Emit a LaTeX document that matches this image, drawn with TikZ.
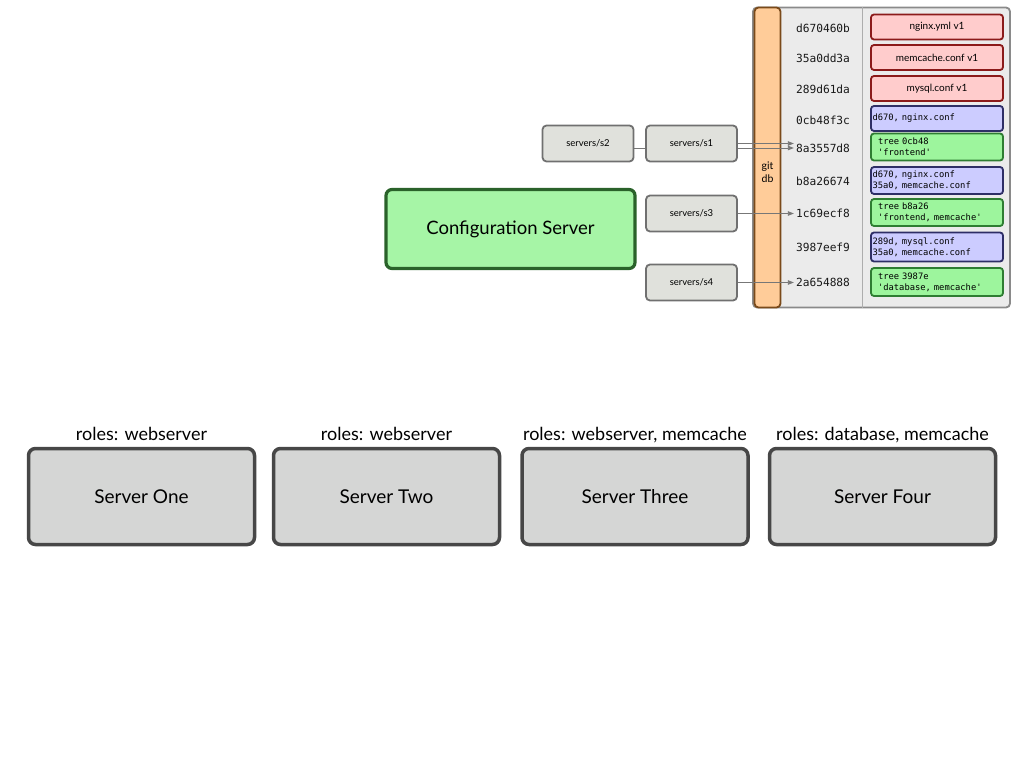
\documentclass[tikz,border=0pt]{standalone}
\usepackage{fontspec}
\setmainfont{Lato}
\newfontfamily\monof{DejaVu Sans Mono}
\usetikzlibrary{arrows.meta}
\definecolor{panelfill}{HTML}{EBEBEB}
\definecolor{panelline}{HTML}{8A8A8A}
\definecolor{barfill}{HTML}{FFCC99}
\definecolor{barline}{HTML}{7A4A1A}
\definecolor{redfill}{HTML}{FFCCCC}
\definecolor{redline}{HTML}{8B1A1A}
\definecolor{bluefill}{HTML}{CCCCFF}
\definecolor{blueline}{HTML}{2E2E66}
\definecolor{greenfill}{HTML}{9DF59D}
\definecolor{greenline}{HTML}{2E7D32}
\definecolor{cfgfill}{HTML}{A6F5A6}
\definecolor{cfgline}{HTML}{2A622A}
\definecolor{sfill}{HTML}{E0E1DC}
\definecolor{sline}{HTML}{707070}
\definecolor{srvfill}{HTML}{D5D6D5}
\definecolor{srvline}{HTML}{474747}
\definecolor{conn}{HTML}{777777}
\pgfdeclarelayer{fg}
\pgfsetlayers{main,fg}
\tikzset{
  hash/.style={font=\monof\fontsize{11.2}{13}\selectfont, inner sep=2pt, text=black!90},
  redbox/.style={draw=redline, fill=redfill, line width=1.8pt, rounded corners=3pt,
    minimum width=132pt, minimum height=25pt, font=\fontsize{10}{12}\selectfont},
  bluebox/.style={draw=blueline, fill=bluefill, line width=1.8pt, rounded corners=3pt,
    minimum width=132pt, minimum height=25pt, inner xsep=1.5pt, text width=129pt, align=left,
    font=\monof\fontsize{8.8}{11}\selectfont},
  greenbox/.style={draw=greenline, fill=greenfill, line width=1.8pt, rounded corners=3pt,
    minimum width=132pt, minimum height=27pt, inner xsep=7pt, text width=118pt, align=left,
    font=\monof\fontsize{8.8}{11}\selectfont},
  sbox/.style={draw=sline, fill=sfill, line width=1.8pt, rounded corners=4pt,
    minimum width=91pt, minimum height=36pt, font=\fontsize{9.5}{11}\selectfont},
  srv/.style={draw=srvline, fill=srvfill, line width=3.5pt, rounded corners=7pt,
    minimum width=226pt, minimum height=96pt, font=\fontsize{19}{22}\selectfont},
  role/.style={font=\fontsize{18}{21}\selectfont, inner sep=0pt},
  link/.style={draw=conn, line width=0.9pt, -{Triangle[length=6pt,width=4.5pt]}},
  plain/.style={draw=conn, line width=0.9pt}
}
\begin{document}
\begin{tikzpicture}[x=1pt,y=-1pt]
\useasboundingbox (0,0) rectangle (1024,768);
% git db panel
\node[draw=panelline, fill=panelfill, line width=1.8pt, rounded corners=4pt,
  minimum width=257pt, minimum height=300pt] (panel) at (881.5,157.5) {};
\draw[panelline!70, line width=0.8pt] (panel.north -| 862,0) -- (panel.south -| 862,0);
\node[draw=barline, fill=barfill, line width=1.8pt, rounded corners=4pt,
  minimum width=26pt, minimum height=300pt] (bar) at (767.5,157.5) {};
\node[font=\fontsize{10.5}{13}\selectfont, align=center] (gitdb) at (767.5,172) {git\\db};
% hashes
\node[hash] (h1) at (823,28) {d670460b};
\node[hash] (h2) at (823,58) {35a0dd3a};
\node[hash] (h3) at (823,89) {289d61da};
\node[hash] (h4) at (823,120) {0cb48f3c};
\node[hash] (h5) at (823,148) {8a3557d8};
\node[hash] (h6) at (823,181) {b8a26674};
\node[hash] (h7) at (823,213) {1c69ecf8};
\node[hash] (h8) at (823,247) {3987eef9};
\node[hash] (h9) at (823,282) {2a654888};
% objects
\node[redbox] (o1) at (937,27) {nginx.yml v1};
\node[redbox] (o2) at (937,57.5) {memcache.conf v1};
\node[redbox] (o3) at (937,88.5) {mysql.conf v1};
\node[bluebox] (o4) at (937,118.5) {d670, nginx.conf};
\node[greenbox] (o5) at (937,147) {tree 0cb48\\'frontend'};
\node[bluebox, minimum height=27pt] (o6) at (937,180.5) {d670, nginx.conf\\35a0, memcache.conf};
\node[greenbox] (o7) at (937,212.5) {tree b8a26\\'frontend, memcache'};
\node[bluebox, minimum height=29pt] (o8) at (937,247) {289d, mysql.conf\\35a0, memcache.conf};
\node[greenbox, minimum height=28pt] (o9) at (937,282) {tree 3987e\\'database, memcache'};
% refs
\begin{pgfonlayer}{fg}
\node[sbox] (s2) at (588,143.5) {servers/s2};
\node[sbox] (s1) at (691.5,143.5) {servers/s1};
\node[sbox] (s3) at (691.5,213.5) {servers/s3};
\node[sbox] (s4) at (691.5,282.5) {servers/s4};
\end{pgfonlayer}
\draw[link] ([yshift=-4.5pt]s2.east) -- ([yshift=-4.5pt]s2.east -| h5.west);
\draw[link] (s1.east) -- (s1.east -| h5.west);
\draw[link] (s3.east) -- (s3.east -| h7.west);
\draw[link] (s4.east) -- (s4.east -| h9.west);
% configuration server
\node[draw=cfgline, fill=cfgfill, line width=3.2pt, rounded corners=6pt,
  minimum width=249pt, minimum height=79pt, font=\fontsize{18.5}{21}\selectfont] (cfg) at (510.5,229) {Configuration Server};
% servers
\node[srv] (srv1) at (141.5,496.5) {Server One};
\node[srv] (srv2) at (386.5,496.5) {Server Two};
\node[srv] (srv3) at (635,496.5) {Server Three};
\node[srv] (srv4) at (882.5,496.5) {Server Four};
\node[role, anchor=base] (r1) at (141.5,440) {roles: webserver};
\node[role, anchor=base] (r2) at (386.5,440) {roles: webserver};
\node[role, anchor=base] (r3) at (635,440) {roles: webserver, memcache};
\node[role, anchor=base] (r4) at (882.5,440) {roles: database, memcache};
\end{tikzpicture}
\end{document}
